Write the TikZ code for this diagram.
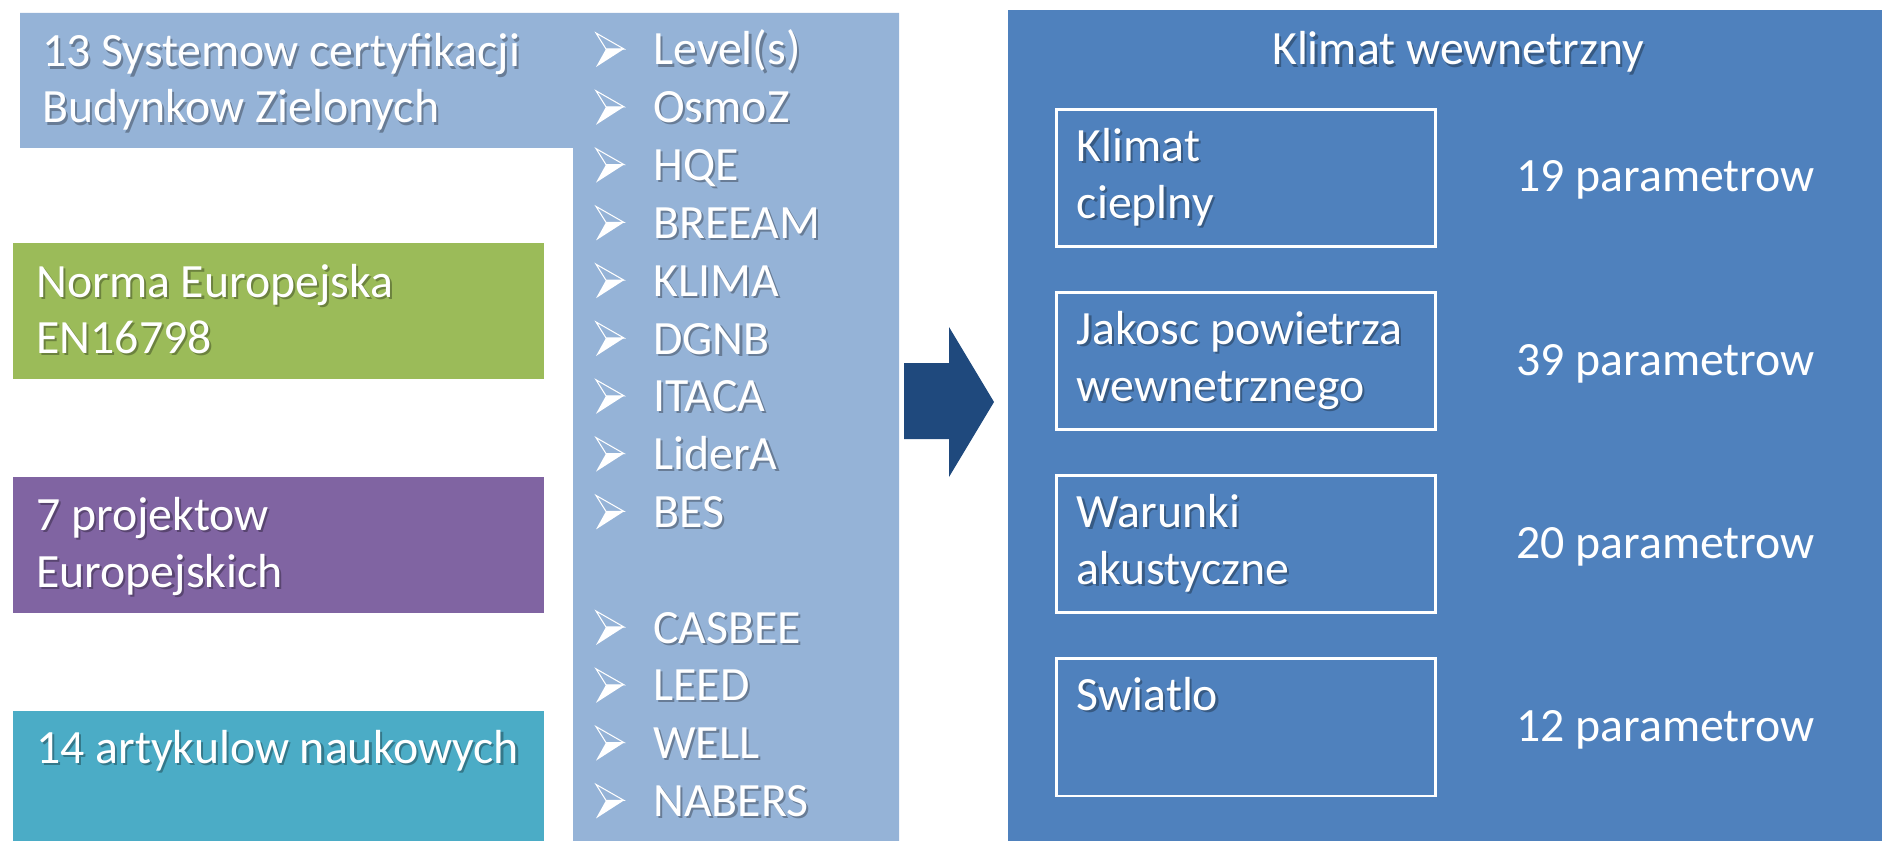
\documentclass[tikz,border=0pt]{standalone}
\usepackage{fontspec}
\setmainfont{Carlito}
\usetikzlibrary{calc}
\definecolor{lightblu}{HTML}{95B3D7}
\definecolor{grnbox}{HTML}{9BBB59}
\definecolor{purpbox}{HTML}{8064A2}
\definecolor{tealbox}{HTML}{4BACC6}
\definecolor{mainblu}{HTML}{4F81BD}
\definecolor{darkblu}{HTML}{1F497D}
\newcommand\shd[1]{\leavevmode\rlap{\kern1.2pt\raisebox{-1.2pt}{\pgfsetfillopacity{0.3}\color{black}#1\pgfsetfillopacity{1}}}#1}
\tikzset{
	txt/.style={anchor=base west, inner sep=0pt, text=white, font=\fontsize{27.2}{33}\selectfont},
	inbox/.style={draw=white, line width=1.7pt, minimum width=7.6cm, minimum height=2.76cm, inner sep=0pt},
	bullarr/.pic={
		\draw[white, line width=0.6pt, line join=miter] (0, -32) -- (28, -16) -- (10, -16) -- cycle;
		\fill[white] (10, -16) -- (28, -16) -- (0, 2) -- cycle;
	}
}

\begin{document}
\begin{tikzpicture}[x=0.02cm, y=-0.02cm]
		%%%%% START %%%%%
		\useasboundingbox (0, 0) rectangle (1882, 841);
		
		\fill[lightblu] (20, 13) -- (899, 13) -- (899, 841) -- (573, 841) -- (573, 148) -- (20, 148) -- cycle;
		\fill[grnbox] (13, 243) rectangle (544, 379);
		\fill[purpbox] (13, 477) rectangle (544, 613);
		\fill[tealbox] (13, 711) rectangle (544, 841);
		
		\node[txt] (sys1) at (42, 67) {\shd{13 Systemow certyfikacji}};
		\node[txt] (sys2) at (42, 123) {\shd{Budynkow Zielonych}};
		\node[txt] (norma1) at (36, 297) {\shd{Norma Europejska}};
		\node[txt] (norma2) at (36, 353) {\shd{EN16798}};
		\node[txt] (proj1) at (36, 530) {\shd{7 projektow}};
		\node[txt] (proj2) at (36, 587) {\shd{Europejskich}};
		\node[txt] (art) at (36, 763) {\shd{14 artykulow naukowych}};
		
		\foreach \lbl/\k in {Level(s)/0, OsmoZ/1, HQE/2, BREEAM/3, KLIMA/4, DGNB/5, ITACA/6, LiderA/7, BES/8, CASBEE/10, LEED/11, WELL/12, NABERS/13}{
			\pic at (596, 65+57.8*\k) {bullarr};
			\node[txt] (lst\k) at (653, 65+57.8*\k) {\shd{\lbl}};
		}
		
		\fill[darkblu] (904, 363) -- (949, 363) -- (949, 327) -- (994, 402) -- (949, 477) -- (949, 439) -- (904, 439) -- cycle;
		
		\fill[mainblu] (1008, 10) rectangle (1882, 841);
		\node[txt, anchor=base] (title) at (1458, 65) {\shd{Klimat wewnetrzny}};
		
		\node[inbox] (box1) at (1246, 178) {};
		\node[inbox] (box2) at (1246, 361) {};
		\node[inbox] (box3) at (1246, 544) {};
		\node[inbox] (box4) at (1246, 727) {};
		
		\node[txt] (k1a) at ($(box1.north west)+(22, 54)$) {\shd{Klimat}};
		\node[txt] (k1b) at ($(box1.north west)+(22, 111)$) {\shd{cieplny}};
		\node[txt] (k2a) at ($(box2.north west)+(22, 54)$) {\shd{Jakosc powietrza}};
		\node[txt] (k2b) at ($(box2.north west)+(22, 111)$) {\shd{wewnetrznego}};
		\node[txt] (k3a) at ($(box3.north west)+(22, 54)$) {\shd{Warunki}};
		\node[txt] (k3b) at ($(box3.north west)+(22, 111)$) {\shd{akustyczne}};
		\node[txt] (k4a) at ($(box4.north west)+(22, 54)$) {\shd{Swiatlo}};
		
		\node[txt] (par1) at (1516, 192) {19 parametrow};
		\node[txt] (par2) at (1516, 375) {39 parametrow};
		\node[txt] (par3) at (1516, 558) {20 parametrow};
		\node[txt] (par4) at (1516, 741) {12 parametrow};
		
		%%%%% END %%%%%
\end{tikzpicture}
\end{document}
